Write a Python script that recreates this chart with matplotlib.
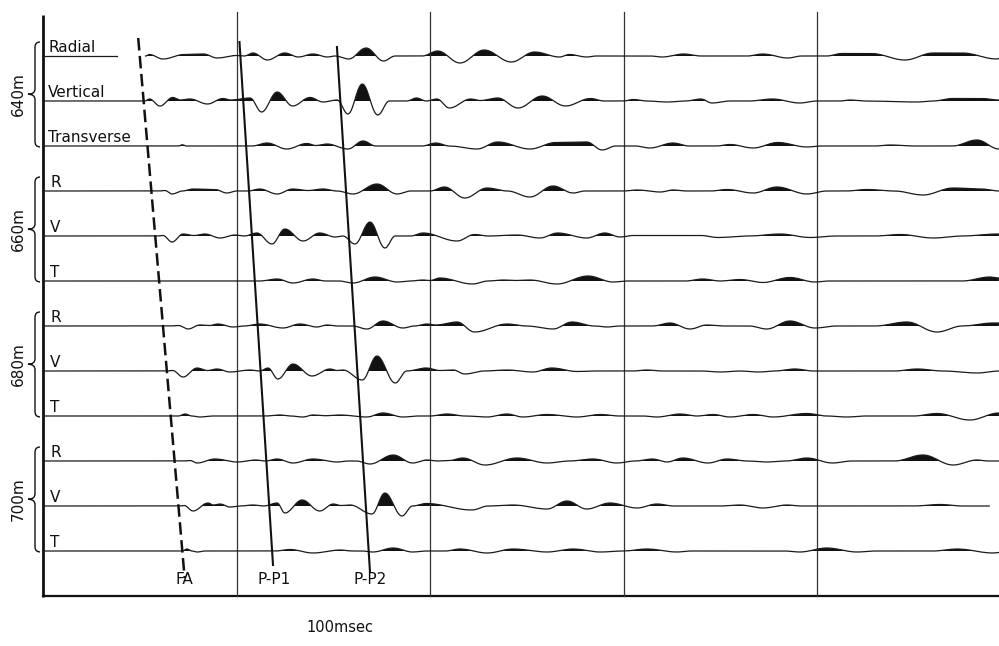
import numpy as np
import matplotlib
matplotlib.use('Agg')
import matplotlib.pyplot as plt
from matplotlib.path import Path
from matplotlib.patches import PathPatch

# record geometry (pixels of the 999x646 sheet)
W, H = 999, 646
X0_PX, PX_PER_MS = 43, 1.935      # t = 0 at left axis, 100 ms per grid cell
Y0_PX, PX_PER_TRACE = 56, 45      # first trace baseline, trace spacing
GAIN = 1.0 / 45                   # amplitude units -> trace spacing

depths = ['640m', '660m', '680m', '700m']
comp_long = ['Radial', 'Vertical', 'Transverse']
comp_short = ['R', 'V', 'T']
grid_ms = [100, 200, 300, 400]

# wiggle traces: (time ms, deflection) knots, + = up
r640_stub = [(0, 0), (38, 0)]
r640 = [(53, 0), (55, 1.5), (62, -3), (73, 1.5), (83, 2), (90, -2), (100, 0.5), (104, 0), (108.5, 3), (116, -4),
        (125, 3), (132, -1), (139.5, 2), (147, -1), (151, 0), (158, -3), (167, 8), (176, -5), (182, 0), (196, 0),
        (204, 5), (215.5, -7), (228, 6), (242, -6), (254, 4), (267, -1), (272, 1.5), (281, -1), (286, 0), (314, 0),
        (320, -1), (331, 2), (340, 0), (364, 0), (372, 2), (385, -2), (392, 0), (405, 0), (413, 2.5), (428, 2.5),
        (445.5, -4), (460, 3), (475, 3), (493, -3), (494, -2.5)]
v640 = [(0, 0), (52.7, 0), (55, 2), (60.5, -5), (67, 3.5), (71, 1), (76, 2), (85, -3), (93, 2.5), (97, 1), (107, 3),
        (113, -11), (121, 9), (129, -5), (138, 3.5), (144.7, -1), (152, 1), (157.6, -13), (165, 17), (173, -14),
        (179, 0), (188, 0), (193, 3), (198, 0), (203.6, 2), (210, -7), (221, 2), (226, 0.5), (235, 3), (245.5, -7),
        (258, 5), (270, -5), (283, 2.5), (290, 0), (300, 0), (305, 1.5), (312, 0), (322.5, -1), (332, 0), (340, 2),
        (345.7, -2), (355, 0), (365, 0), (377, 2), (391, -2), (400, 0), (412, 0), (417, 1), (425, 0), (451.7, -1),
        (460, 0), (470, 2.5), (485, 2.5), (494, 1)]
t640 = [(0, 0), (70, 0), (72, 1.2), (74, 0), (108, 0), (115.8, 3), (126, -3), (136.4, 2.5), (141, 0.5), (146.8, 2),
        (157.6, -3), (165.4, 5), (172, 0), (196, 0), (203, 3), (210, 0), (224.3, -3), (235, 4), (251.7, -3), (265, 3.5),
        (281, 4), (289, -4), (296, 0), (306, 0), (313.7, -2), (325.6, 3), (334, 0), (348, 0), (355, 1.5), (367, -2),
        (379.8, 3.5), (394.8, -1), (402, 0), (430, 0), (437.7, 1), (450, 0), (470, 0), (482.7, 6), (494, -3)]
r660 = [(0, 0), (60, 0), (63, 0.5), (66.7, -3), (72, 0), (77.5, 2), (89, 1.5), (95, -2), (100, 0), (106, 0), (112, 2),
        (121, -3), (129, 2), (137, 0.5), (144.7, 2), (152, 0), (160.2, -3), (172.6, 7), (183, -3), (190, 0), (200, 0),
        (207.5, 4), (218, -7), (229.5, 3), (240, 0), (251.7, -6), (263.6, 5), (274, -2), (280, 0), (300, 0), (307, 1),
        (319, -1), (325.6, 1), (333, 0), (345, 0), (353.5, 1.5), (367, -2), (379.3, 4), (394.8, -3), (405, 0), (415, 0),
        (425.8, 1.5), (440, 0), (454.8, -4), (470.3, 3), (485, 2), (494, 0)]
v660 = [(0, 0), (59, 0), (62, 0.5), (66.7, -6), (72.4, 2), (78, 0.5), (83.7, 2), (91.5, -2), (99.2, 1), (104, 0),
        (110.6, 3), (118.3, -8), (125, 7), (134.4, -5), (143, 3), (151, -1), (155, 0), (161.2, -8), (169, 14),
        (176.7, -12), (182, 0), (190, 0), (196.4, 3), (214, -5), (223, 1.5), (230, 0), (245, 1), (256.8, -2), (266, 3),
        (281, -2), (290.4, 3), (298.2, -1), (305, 0.5), (340, 0.5), (348.8, -1.5), (365, 0), (381, 2), (396.4, -1.5),
        (410, 0), (430, 0), (443, 1.5), (460, -2), (475, 0), (493, 2), (494, 2)]
t660 = [(0, 0), (112, 0), (121, 2), (129.2, -2), (139.5, 2), (146, 0), (153, 0), (160.2, -2), (171.6, 4), (183, -1),
        (190, 0), (196.4, 1), (200, 0.5), (205, 3), (222, -3), (230, 0), (237.7, 1), (244, 0.5), (251.7, 1),
        (265.6, -3), (281.7, 5), (294.6, -1), (302, 0), (332, 0), (341, 2), (350, 0), (360.2, 1.5), (372, -1.5),
        (386, 3.5), (399, -1), (406, 0), (475, 0), (489.4, 4), (494, 3)]
r680 = [(0, 0), (66, 0), (70, 0.5), (75, -3), (81, 1), (86, 0.5), (90.4, 2), (98.2, -1), (104, 0), (112, 2), (124, -2),
        (132.8, 2), (141.6, -1), (146.8, 1), (152, 0), (160, 0), (167.4, -3), (175.7, 5), (186, -2), (192, 0),
        (198.4, 2), (203, 1), (214, 4), (223, -6), (239.8, 2), (250, 0), (263.6, -3), (273.4, 4), (285, 0), (291.5, -1),
        (298, 0), (315, 0), (324, 3), (334.4, -3), (343, 1), (352, 0), (365, 0), (374, -3), (386, 5), (399, -2),
        (410, 0), (430, 0), (446.5, 4), (462, -6), (475, 0), (491, 3), (494, 3)]
v680 = [(0, 0), (64, 0), (67, 0.5), (72.4, -6), (79.6, 3), (85, 0.5), (90, 2), (96.6, -1), (107, 1), (112, 0),
        (116.3, 3), (121.4, -8), (129.2, 7), (139, -5), (148.3, 2), (152, 0.5), (155, 1), (165, -9), (172.6, 15),
        (182, -12), (188, 0), (198, 3), (205, 0.5), (212, 1), (218, -3), (228, 0), (239.8, 1), (253.2, -1), (263, 3),
        (276, -0.5), (285, 0), (305, 0), (312, 1), (320, 0), (340, 0), (350, -1), (360, 0), (370, -1), (378, 0),
        (388.6, 2), (398, 0), (440, 0), (451.7, 2), (465, 0), (482.7, -2), (494, 0)]
t680 = [(0, 0), (70, 0), (73.4, 2), (77, 0), (81, -1), (88, 0), (115, 0), (122.5, 1), (128, 0), (134.4, -1),
        (139.5, 1), (146, 0.3), (153.5, 1), (167.4, -1), (175.7, 3), (186, -1), (194, 0), (200, 0), (208.8, 2),
        (218, 0), (229.5, -1), (239.8, 2), (248, -1), (260.5, 1.5), (276, -1), (288, 1.5), (298, 0), (310, 0),
        (317.3, -1), (329.2, 2), (338, 0), (346.3, 1.5), (355, -1), (367, 1.5), (377.3, -1), (394.8, 2.5), (405, 0),
        (415.5, -1), (425, 0), (450, 0), (462, 2.5), (479, -4), (494, 3)]
r700 = [(0, 0), (73, 0), (76, 0.5), (79.6, -2), (88.9, 2), (100.3, -1), (110, 1), (115, 0), (121, 2), (129.2, -2),
        (139.5, 2), (152, -1), (158, 0), (162, 0), (169, -3), (181, 6), (191, -2), (198.4, 1), (204, 0), (210, 0.5),
        (217, 3), (228.4, -4), (245, 3), (260.5, -2), (272, 0), (284.2, 2), (296.6, -2), (306, 0), (315, 2),
        (322.5, -1), (330.7, 3), (343.7, -2), (353.5, 2), (364, 0), (374, -1), (384, 0), (394.8, 3), (408, -2),
        (418, 0), (440, 0), (454.8, 6), (470.3, -4), (482.7, 1), (488, 0), (494, 0)]
v700 = [(0, 0), (71, 0), (73, 0.5), (77.5, -5), (85.3, 3), (88, 1), (91.5, 2), (96.6, -1), (102, 0), (108.5, 1),
        (114, 0), (121, 3), (125, -7), (133.9, 6), (143, -5), (150, 2), (154, 0.5), (158.7, 1), (170, -8),
        (176.7, 13), (185.5, -10), (191, 0), (198, 2.5), (221.7, -4), (230, 0), (243, 1), (260.5, -3), (270.8, 5),
        (281, -3), (293, 3), (307, -2), (317.3, 2), (326, 0), (350, 0), (360.2, 1), (372, -2), (384.5, 1), (392, 0),
        (450, 0), (463.6, 1.5), (475, 0), (489, 0)]
t700 = [(0, 0), (72, 0), (74.4, 2), (77, 0), (79.6, -1), (84, 0), (120, 0), (127.6, 1.5), (139.5, -2), (153.5, 1),
        (160, 0), (165, 0), (170.5, -1), (181, 3), (191, -1), (198, 0), (208, 0), (215.5, 2), (229.5, -2), (243, 2),
        (260.5, -1), (274, 2), (287.9, -1), (300, 0), (312, 2), (327.6, -1), (335, 0), (383, 0), (391.2, -1),
        (405, 3), (420.7, -1), (430, 0), (460, 0), (472.4, 2), (491, -2), (494, -1.5)]

traces = [r640, v640, t640, r660, v660, t660, r680, v680, t680, r700, v700, t700]

# picked phases: arrival time on first and last trace
phase_names = ['FA', 'P-P1', 'P-P2']
phase_t_first = [50, 102, 152.2]
phase_t_last = [72, 118.4, 168.3]
phase_top = [-0.4, -0.31, -0.2]
phase_bottom = [11.6, 11.31, 11.47]


def shape(knots, n=14):
    ts, amps = [], []
    for (t0, a0), (t1, a1) in zip(knots[:-1], knots[1:]):
        s = np.linspace(0, 1, n)[:-1]
        ts.append(t0 + (t1 - t0) * s)
        amps.append(a0 + (a1 - a0) * (1 - np.cos(np.pi * s)) / 2)
    ts.append([knots[-1][0]])
    amps.append([knots[-1][1]])
    return np.concatenate(ts), np.concatenate(amps)


fig = plt.figure(figsize=(W / 100, H / 100), dpi=100)
ax = fig.add_axes([0, 0, 1, 1])
ax.set_xlim(-X0_PX / PX_PER_MS, (W - X0_PX) / PX_PER_MS)
ax.set_ylim((H - Y0_PX) / PX_PER_TRACE, -Y0_PX / PX_PER_TRACE)
ax.axis('off')

ms_per_px = 1 / PX_PER_MS
tr_per_px = 1 / PX_PER_TRACE

# frame and 100 ms grid
y_bottom = 12.0
ax.plot([0, 0], [-0.91, y_bottom + 0.02], color='#111111', lw=2.0, solid_capstyle='butt')
ax.plot([0, (W - X0_PX) / PX_PER_MS], [y_bottom, y_bottom], color='#111111', lw=1.6)
for g in grid_ms:
    ax.plot([g, g], [-0.98, y_bottom], color='#333333', lw=0.9)

# traces, variable area
for i, knots in enumerate(traces):
    t, a = shape(knots)
    y = i - a * GAIN
    ax.fill_between(t, i, y, where=a > 0, interpolate=True, color='#111111', lw=0)
    ax.plot(t, y, color='#1a1a1a', lw=0.9)
ts, a = shape(r640_stub)
ax.plot(ts, 0 - a * GAIN, color='#1a1a1a', lw=0.9)

# component labels
for g in range(4):
    for k in range(3):
        i = g * 3 + k
        lab = comp_long[k] if g == 0 else comp_short[k]
        ax.text(5 * ms_per_px + (0 if g == 0 else 2 * ms_per_px), i - 4 * tr_per_px, lab,
                fontsize=11, ha='left', va='baseline', color='#111111')

# braces and depth labels
for g, d in enumerate(depths):
    top = g * 3 - 14 * tr_per_px
    bot = g * 3 + 2 + 0.02
    mid = g * 3 + 0.85
    xr, xs, xt = -3 * ms_per_px, -8 * ms_per_px, -15 * ms_per_px
    h = 0.12
    verts = [(xr, top), (xs, top), (xs, top + h),
             (xs, mid - h), (xs, mid), (xt, mid),
             (xs, mid), (xs, mid + h),
             (xs, bot - h), (xs, bot), (xr, bot)]
    codes = [Path.MOVETO, Path.CURVE3, Path.CURVE3,
             Path.LINETO, Path.CURVE3, Path.CURVE3,
             Path.CURVE3, Path.CURVE3,
             Path.LINETO, Path.CURVE3, Path.CURVE3]
    ax.add_patch(PathPatch(Path(verts, codes), fill=False, lw=1.0, color='#111111'))
    ax.text(-25 * ms_per_px, mid, d, rotation=90, fontsize=11, ha='center', va='center', color='#111111')

# phase lines
for k, name in enumerate(phase_names):
    slope = (phase_t_last[k] - phase_t_first[k]) / 11.0
    y0, y1 = phase_top[k], phase_bottom[k]
    x0 = phase_t_first[k] + slope * y0
    x1 = phase_t_first[k] + slope * y1
    if name == 'FA':
        ax.plot([x0, x1], [y0, y1], color='#111111', lw=1.8, dashes=(5, 2.2))
    else:
        ax.plot([x0, x1], [y0, y1], color='#111111', lw=1.5)
    xl = phase_t_first[k] + slope * 11.64
    ax.text(xl, 11.64, name, fontsize=11, ha='center', va='center', color='#111111')

ax.text(153.5, 12.71, '100msec', fontsize=10.5, ha='center', va='center', color='#111111')

fig.savefig('out.png', dpi=100, facecolor='white')
